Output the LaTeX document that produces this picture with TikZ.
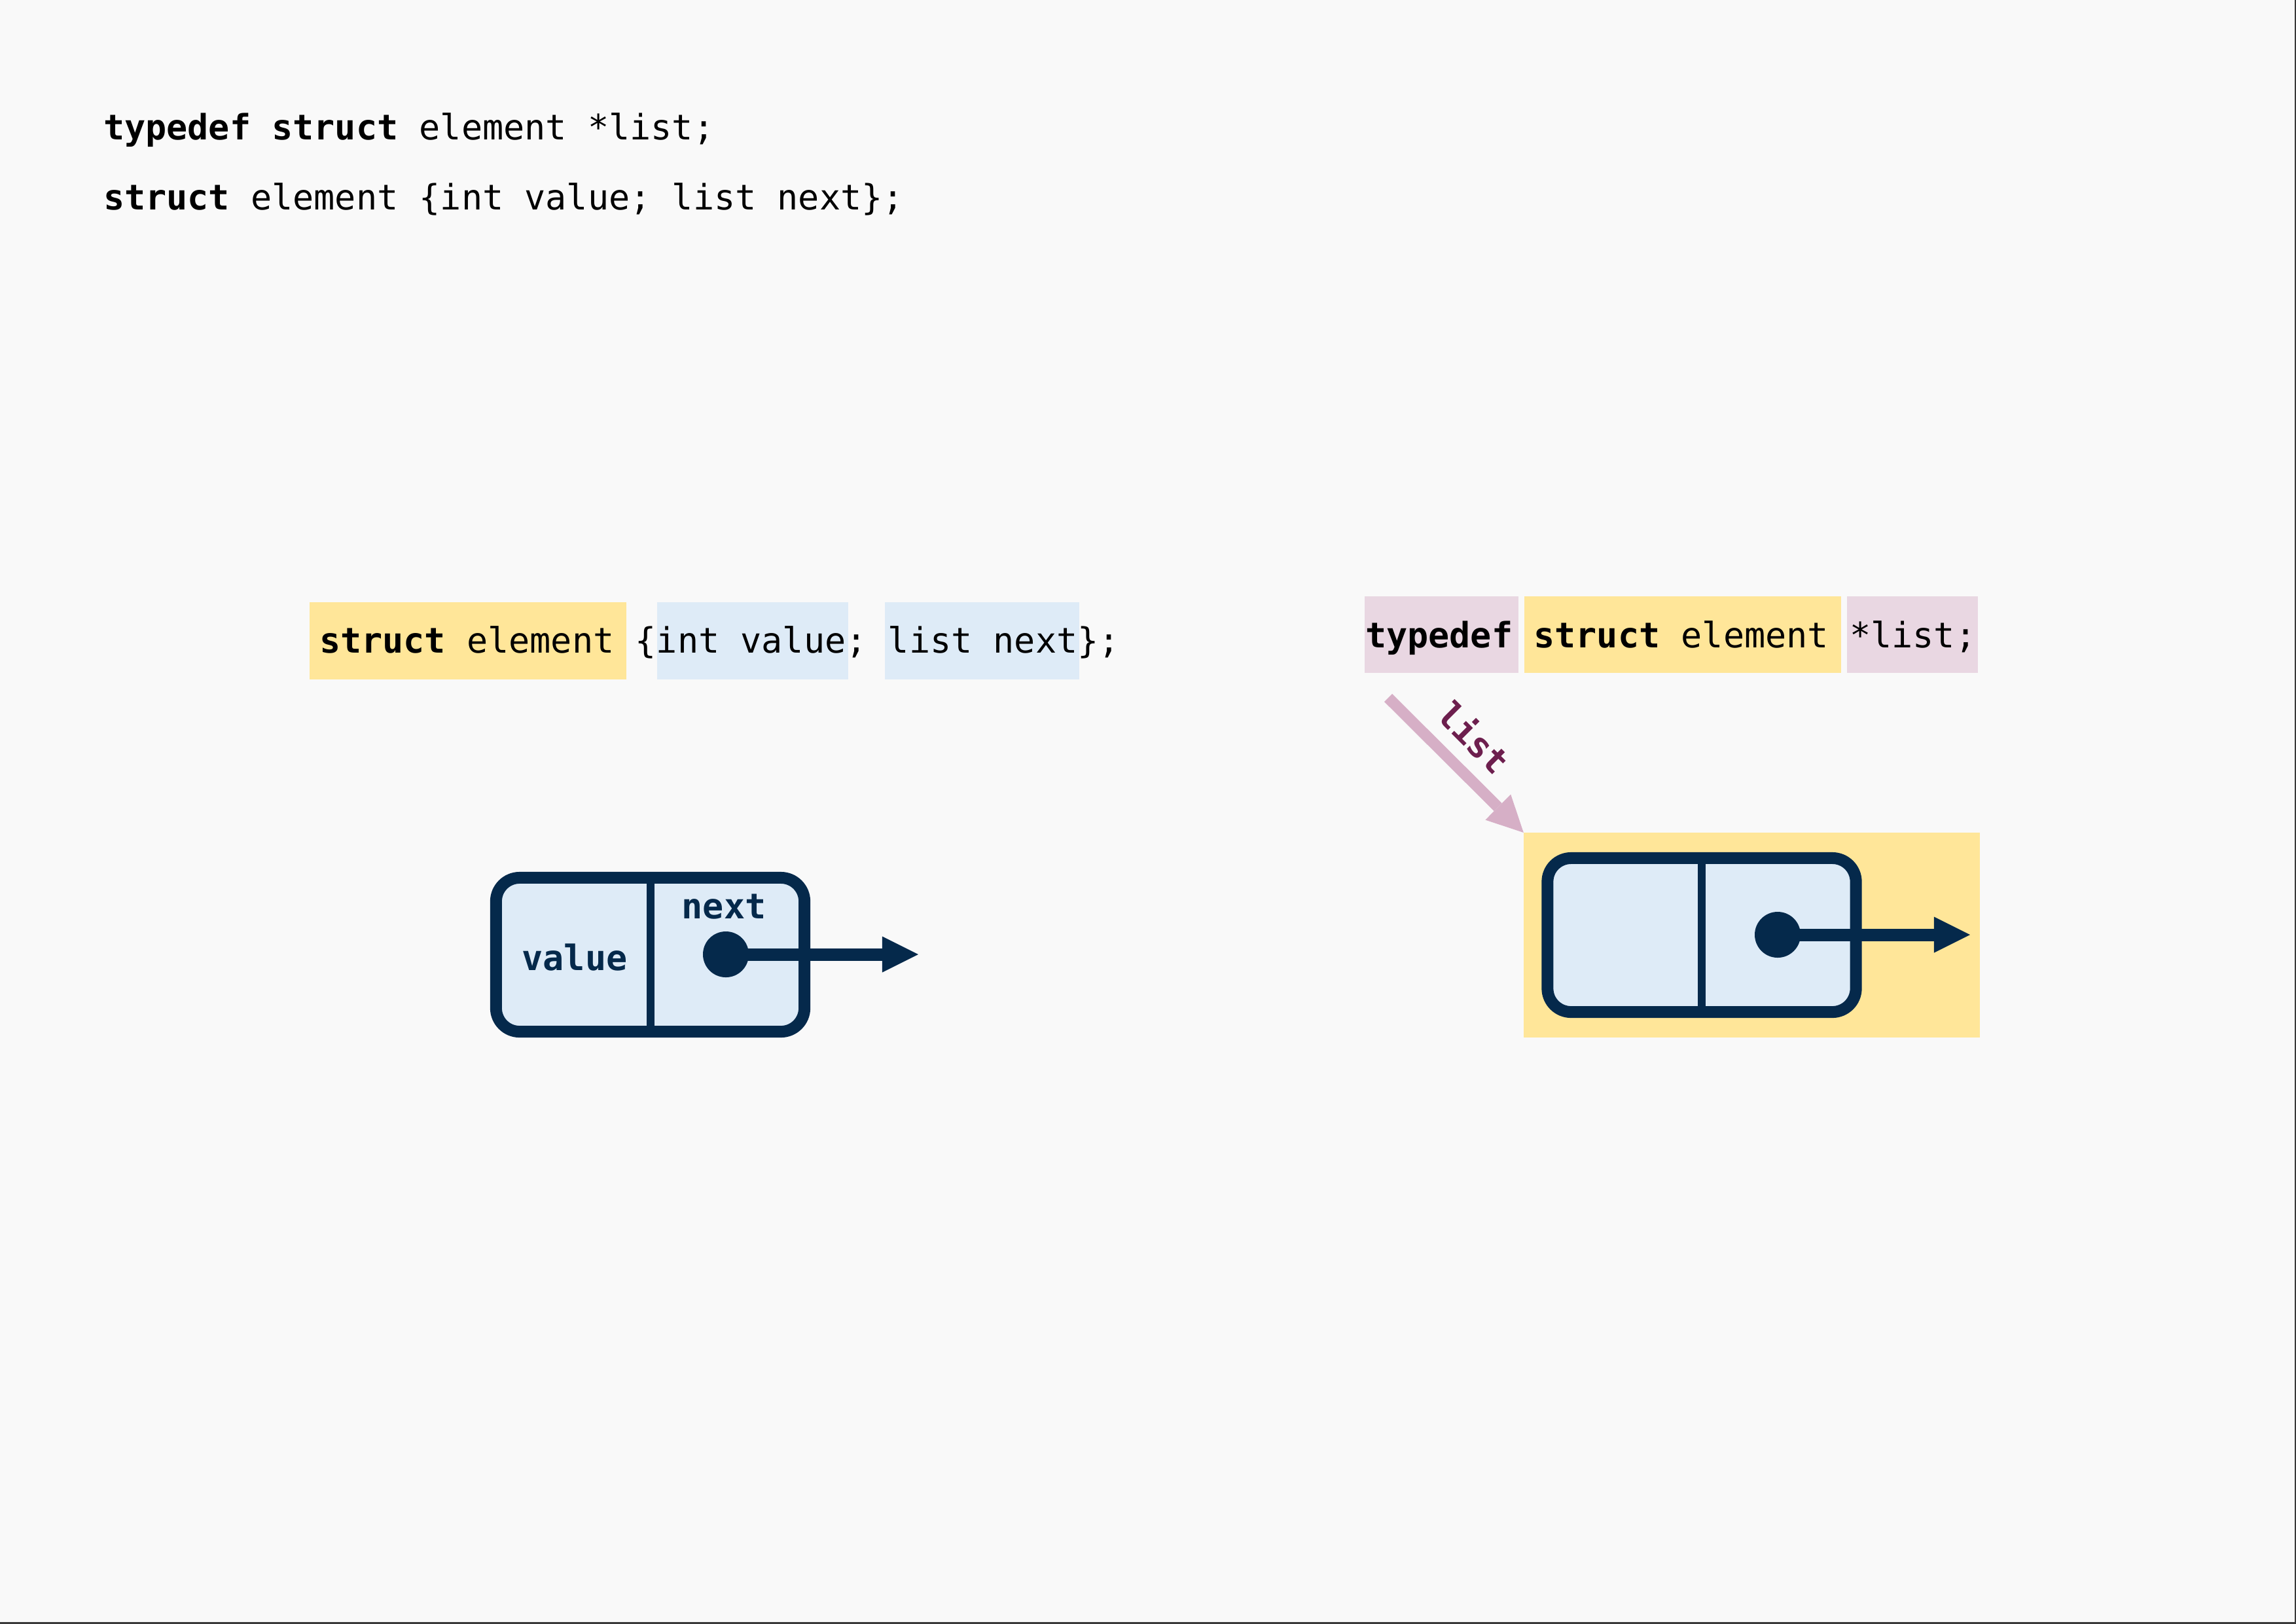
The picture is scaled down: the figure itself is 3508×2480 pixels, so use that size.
\documentclass[tikz,border=0pt]{standalone}
\usepackage{fontspec}
\setmainfont{DejaVu Sans Mono}
\setmonofont{DejaVu Sans Mono}
\usetikzlibrary{arrows.meta}
\definecolor{bgcol}{HTML}{F9F9F9}
\definecolor{hlyellow}{HTML}{FFE699}
\definecolor{hlblue}{HTML}{DEEBF7}
\definecolor{hlpink}{HTML}{E9D7E2}
\definecolor{navy}{HTML}{05294B}
\definecolor{arrowpink}{HTML}{D6AFC6}
\definecolor{labelcol}{HTML}{6D1F4E}
\definecolor{framegray}{HTML}{3A3A3A}
\newcommand\mycodefont{\fontsize{15.2}{18}\selectfont\frenchspacing}
\begin{document}
\begin{tikzpicture}[x=0.01cm,y=-0.01cm,
  code/.style={anchor=base west,inner sep=0pt,outer sep=0pt,font=\mycodefont},
  hlbox/.style={fill=#1,draw=none,inner sep=0pt,outer sep=0pt},
  cellbox/.style={draw=navy,line width=0.18cm,fill=hlblue,rounded corners=0.36cm,
    minimum width=4.71cm,minimum height=2.35cm,inner sep=0pt,outer sep=0pt},
  divider/.style={draw=navy,line width=0.12cm},
  dot/.style={circle,fill=navy,minimum size=0.7cm,inner sep=0pt,outer sep=0pt},
  ptr/.style={draw=navy,line width=0.19cm,-{Triangle[length=0.55cm,width=0.55cm,line width=0pt]}},
  listarrow/.style={draw=arrowpink,line width=0.17cm,-{Triangle[length=0.55cm,width=0.55cm,line width=0pt]}},
  fieldlabel/.style={anchor=base,inner sep=0pt,outer sep=0pt,text=navy,font=\mycodefont\bfseries},
  ptrlabel/.style={inner sep=0pt,outer sep=0pt,text=labelcol,font=\mycodefont\bfseries,rotate=-45}]

% page
\fill[bgcol] (0,0) rectangle (3508,2480);
\useasboundingbox (0,0) rectangle (3508,2480);
\draw[line width=0.04cm,framegray] (3508,0) -- (3508,2480) -- (0,2480);

% code at the top
\node[code] (line1) at (158,213) {\textbf{typedef struct} element *list;};
\node[code] (line2) at (158,320) {\textbf{struct} element \{int value; list next\};};

% left: struct definition with highlights
\node[hlbox=hlyellow,minimum width=4.84cm,minimum height=1.18cm] (lhl1) at (715,979) {};
\node[hlbox=hlblue,minimum width=2.92cm,minimum height=1.18cm] (lhl2) at (1150,979) {};
\node[hlbox=hlblue,minimum width=2.97cm,minimum height=1.18cm] (lhl3) at (1500.5,979) {};
\node[code] (lcode) at (488,997) {\textbf{struct} element \{int value; list next\};};

% right: typedef with highlights
\node[hlbox=hlpink,minimum width=2.35cm,minimum height=1.17cm] (rhl1) at (2202.5,969.5) {};
\node[hlbox=hlyellow,minimum width=4.84cm,minimum height=1.17cm] (rhl2) at (2571,969.5) {};
\node[hlbox=hlpink,minimum width=2.00cm,minimum height=1.17cm] (rhl3) at (2922,969.5) {};
\node[code] (rcode) at (2086,989) {\textbf{typedef struct} element *list;};

% left element
\node[cellbox] (lbox) at (993.5,1458.5) {};
\draw[divider] (lbox.north) -- (lbox.south);
\node[fieldlabel] (lvalue) at (878,1482) {value};
\node[fieldlabel] (lnext) at (1106,1403) {next};
\node[dot] (ldot) at (1109,1458) {};
\coordinate (ltip) at (1403,1458);
\draw[ptr] (ldot.center) -- (ltip);

% right element inside yellow holder
\node[hlbox=hlyellow,minimum width=6.97cm,minimum height=3.13cm] (holder) at (2676.5,1428.5) {};
\node[cellbox] (rbox) at (2600,1428.5) {};
\draw[divider] (rbox.north) -- (rbox.south);
\node[dot] (rdot) at (2716,1428) {};
\coordinate (rtip) at (3010,1428);
\draw[ptr] (rdot.center) -- (rtip);

% list pointer
\coordinate (lstart) at (2121,1066);
\draw[listarrow] (lstart) -- (holder.north west);
\node[ptrlabel] (listlbl) at (2253,1126) {list};
\end{tikzpicture}
\end{document}
